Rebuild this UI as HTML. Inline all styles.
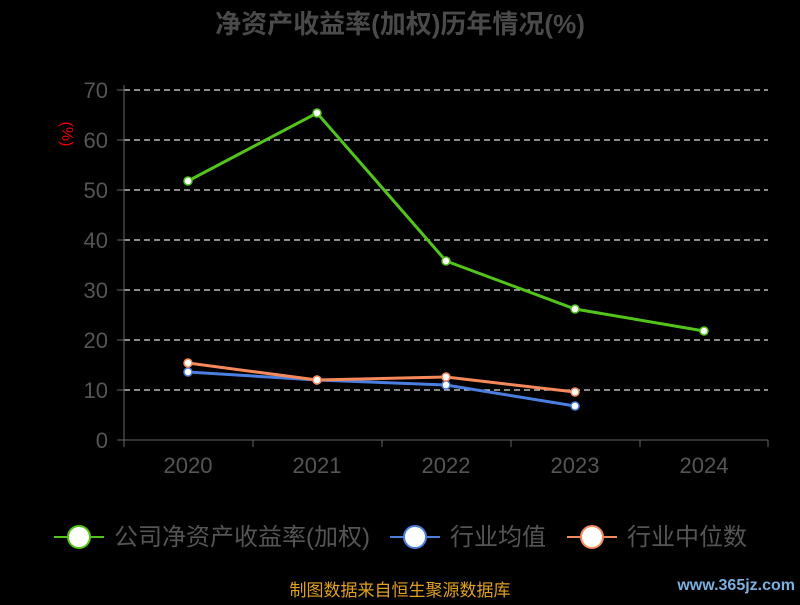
<!DOCTYPE html>
<html><head><meta charset="utf-8"><style>
body{margin:0;background:#000;width:800px;height:600px;overflow:hidden}
text{font-family:"Liberation Sans","Noto Sans CJK SC",sans-serif}
</style></head><body>
<svg width="800" height="600" viewBox="0 0 800 600">
<rect width="800" height="600" fill="#000"/>
<text x="400" y="33" text-anchor="middle" font-size="26" font-weight="bold" fill="#4a4a4a">净资产收益率(加权)历年情况(%)</text>
<text x="70" y="126" fill="#e00" font-size="16" transform="rotate(90 62 126)" text-anchor="middle">(%)</text>
<g stroke="#ddd" stroke-dasharray="6,4" stroke-width="1.2">
<line x1="124" y1="90" x2="768" y2="90"/><line x1="124" y1="140" x2="768" y2="140"/><line x1="124" y1="190" x2="768" y2="190"/><line x1="124" y1="240" x2="768" y2="240"/><line x1="124" y1="290" x2="768" y2="290"/><line x1="124" y1="340" x2="768" y2="340"/><line x1="124" y1="390" x2="768" y2="390"/>
</g>
<g stroke="#666" stroke-width="1">
<line x1="124" y1="85" x2="124" y2="440"/><line x1="124" y1="440" x2="768" y2="440"/>
<line x1="117" y1="90" x2="124" y2="90"/><line x1="117" y1="140" x2="124" y2="140"/><line x1="117" y1="190" x2="124" y2="190"/><line x1="117" y1="240" x2="124" y2="240"/><line x1="117" y1="290" x2="124" y2="290"/><line x1="117" y1="340" x2="124" y2="340"/><line x1="117" y1="390" x2="124" y2="390"/><line x1="117" y1="440" x2="124" y2="440"/>
<line x1="124" y1="440" x2="124" y2="447"/><line x1="253" y1="440" x2="253" y2="447"/><line x1="382" y1="440" x2="382" y2="447"/><line x1="511" y1="440" x2="511" y2="447"/><line x1="640" y1="440" x2="640" y2="447"/><line x1="768" y1="440" x2="768" y2="447"/>
</g>
<g fill="#555" font-size="22" text-anchor="end">
<text x="108" y="98">70</text><text x="108" y="148">60</text><text x="108" y="198">50</text><text x="108" y="248">40</text><text x="108" y="298">30</text><text x="108" y="348">20</text><text x="108" y="398">10</text><text x="108" y="448">0</text>
</g>
<g fill="#555" font-size="22" text-anchor="middle">
<text x="188" y="473">2020</text><text x="317" y="473">2021</text><text x="446" y="473">2022</text><text x="575" y="473">2023</text><text x="704" y="473">2024</text>
</g>
<g fill="none" stroke-width="3">
<polyline stroke="#52c41a" points="188,181 317,113 446,261 575,309 704,331"/>
<polyline stroke="#4a7fe0" points="188,372 317,380 446,385 575,406"/>
<polyline stroke="#f5895a" points="188,363 317,380 446,377 575,392"/>
</g>
<g fill="#fff" stroke-width="1.5">
<g stroke="#52c41a"><circle cx="188" cy="181" r="4"/><circle cx="317" cy="113" r="4"/><circle cx="446" cy="261" r="4"/><circle cx="575" cy="309" r="4"/><circle cx="704" cy="331" r="4"/></g>
<g stroke="#4a7fe0"><circle cx="188" cy="372" r="4"/><circle cx="317" cy="380" r="4"/><circle cx="446" cy="385" r="4"/><circle cx="575" cy="406" r="4"/></g>
<g stroke="#f5895a"><circle cx="188" cy="363" r="4"/><circle cx="317" cy="380" r="4"/><circle cx="446" cy="377" r="4"/><circle cx="575" cy="392" r="4"/></g>
</g>
<g font-size="24" fill="#555">
<line x1="54" y1="537" x2="104" y2="537" stroke="#52c41a" stroke-width="2"/><circle cx="79" cy="537" r="11" fill="#fff" stroke="#52c41a" stroke-width="2"/>
<text x="114" y="545">公司净资产收益率(加权)</text>
<line x1="390" y1="537" x2="440" y2="537" stroke="#4a7fe0" stroke-width="2"/><circle cx="415" cy="537" r="11" fill="#fff" stroke="#4a7fe0" stroke-width="2"/>
<text x="450" y="545">行业均值</text>
<line x1="567" y1="537" x2="617" y2="537" stroke="#f5895a" stroke-width="2"/><circle cx="592" cy="537" r="11" fill="#fff" stroke="#f5895a" stroke-width="2"/>
<text x="627" y="545">行业中位数</text>
</g>
<text x="400" y="596" text-anchor="middle" font-size="17" fill="#e0a020">制图数据来自恒生聚源数据库</text>
<text x="795" y="590" text-anchor="end" font-size="16" font-weight="bold" fill="#7ab0e0">www.365jz.com</text>
</svg>
</body></html>
